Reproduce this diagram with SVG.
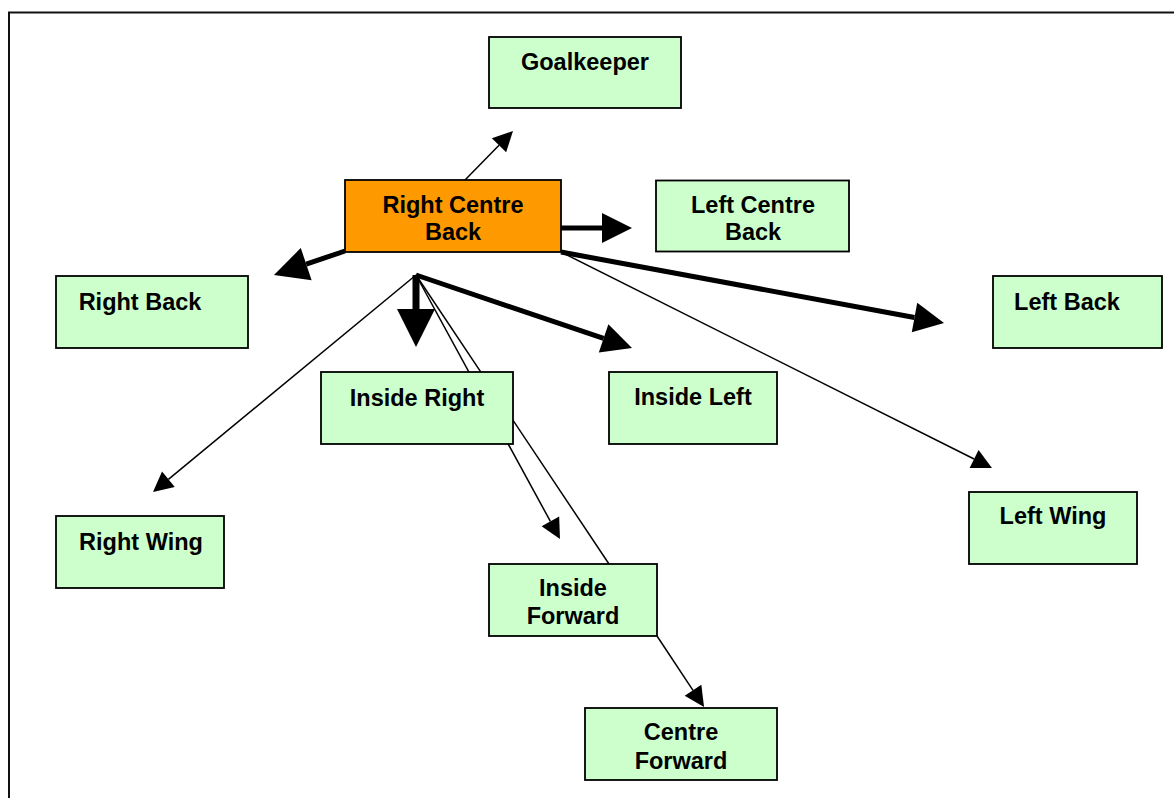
<svg xmlns="http://www.w3.org/2000/svg" width="1174" height="798" viewBox="0 0 1174 798">
<defs>
<style>
.box{fill:#CCFFCC;stroke:#000;stroke-width:1.8}
.orange{fill:#FF9900}
.lbl{font-family:"Liberation Sans",Arial,sans-serif;font-weight:bold;font-size:23.5px;fill:#000;text-anchor:middle}
.thin{stroke:#000;stroke-width:1.5;fill:none}
.thick{stroke:#000;stroke-width:5;fill:none}
.big{stroke:#000;stroke-width:7;fill:none}
</style>
<marker id="hThin" markerUnits="userSpaceOnUse" markerWidth="20" markerHeight="20" refX="0" refY="10" orient="auto" overflow="visible">
<path d="M0,0 L20,10 L0,20 Z" fill="#000"/>
</marker>
<marker id="hThick" markerUnits="userSpaceOnUse" markerWidth="30" markerHeight="30" refX="0" refY="15" orient="auto" overflow="visible">
<path d="M0,0 L30,15 L0,30 Z" fill="#000"/>
</marker>
<marker id="hThickL" markerUnits="userSpaceOnUse" markerWidth="34" markerHeight="34" refX="0" refY="17" orient="auto" overflow="visible">
<path d="M0,0 L34,17 L0,34 Z" fill="#000"/>
</marker>
<marker id="hBig" markerUnits="userSpaceOnUse" markerWidth="38" markerHeight="38" refX="0" refY="19" orient="auto" overflow="visible">
<path d="M0,0 L38,19 L0,38 Z" fill="#000"/>
</marker>
</defs>
<rect x="0" y="0" width="1174" height="798" fill="#fff"/>
<rect id="frame" x="9" y="12.5" width="1200" height="900" fill="none" stroke="#111" stroke-width="2"/>
<g id="connectors">
<line class="thin" x1="465" y1="180" x2="499" y2="145.3" marker-end="url(#hThin)"/>
<line class="thick" x1="561" y1="228" x2="602" y2="228" marker-end="url(#hThick)"/>
<line class="thick" x1="345" y1="251" x2="306.2" y2="264.1" marker-end="url(#hThickL)"/>
<line class="big" x1="416" y1="275" x2="416" y2="309" marker-end="url(#hBig)"/>
<line class="thick" x1="416" y1="275" x2="603.6" y2="338.4" marker-end="url(#hThick)"/>
<line class="thin" x1="416" y1="275" x2="168.4" y2="479.3" marker-end="url(#hThin)"/>
<line class="thin" x1="416" y1="275" x2="550.4" y2="521.4" marker-end="url(#hThin)"/>
<line class="thin" x1="416" y1="275" x2="609" y2="564"/>
<line class="thick" x1="561" y1="252" x2="914.5" y2="317.5" marker-end="url(#hThick)"/>
<line class="thin" x1="561" y1="252" x2="974.1" y2="459" marker-end="url(#hThin)"/>
<line class="thin" x1="657" y1="636" x2="693" y2="690.3" marker-end="url(#hThin)"/>
</g>
<g id="goalkeeper">
<rect class="box" x="489" y="37" width="192" height="71"/>
<text class="lbl" x="585" y="70">Goalkeeper</text>
</g>
<g id="right-centre-back">
<rect class="box orange" x="345" y="180" width="216" height="72"/>
<text class="lbl" x="453" y="213">Right Centre</text>
<text class="lbl" x="453" y="240">Back</text>
</g>
<g id="left-centre-back">
<rect class="box" x="656" y="180.5" width="193" height="71"/>
<text class="lbl" x="753" y="213">Left Centre</text>
<text class="lbl" x="753" y="240">Back</text>
</g>
<g id="right-back">
<rect class="box" x="56" y="276" width="192" height="72"/>
<text class="lbl" x="140" y="310">Right Back</text>
</g>
<g id="left-back">
<rect class="box" x="993" y="276" width="169" height="72"/>
<text class="lbl" x="1067" y="310">Left Back</text>
</g>
<g id="inside-right">
<rect class="box" x="321" y="372" width="192" height="72"/>
<text class="lbl" x="417" y="406">Inside Right</text>
</g>
<g id="inside-left">
<rect class="box" x="609" y="372" width="168" height="72"/>
<text class="lbl" x="693" y="404.5">Inside Left</text>
</g>
<g id="right-wing">
<rect class="box" x="56" y="516" width="168" height="72"/>
<text class="lbl" x="141" y="550">Right Wing</text>
</g>
<g id="left-wing">
<rect class="box" x="969" y="492" width="168" height="72"/>
<text class="lbl" x="1053" y="523.5">Left Wing</text>
</g>
<g id="inside-forward">
<rect class="box" x="489" y="564" width="168" height="72"/>
<text class="lbl" x="573" y="596">Inside</text>
<text class="lbl" x="573" y="624">Forward</text>
</g>
<g id="centre-forward">
<rect class="box" x="585" y="708" width="192" height="72"/>
<text class="lbl" x="681" y="740">Centre</text>
<text class="lbl" x="681" y="768.5">Forward</text>
</g>
</svg>
